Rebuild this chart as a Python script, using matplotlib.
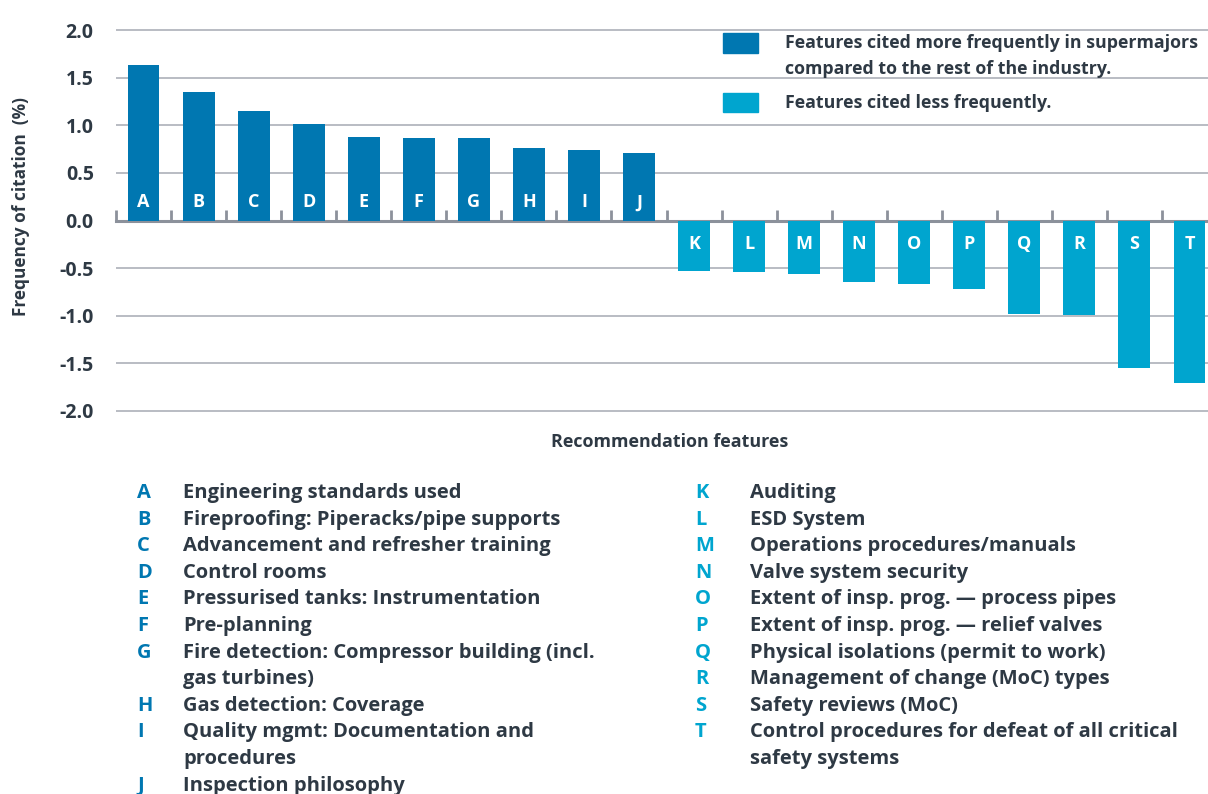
import numpy as np
import matplotlib
matplotlib.use("Agg")
import matplotlib.pyplot as plt
from matplotlib.patches import Rectangle

# ---- data ----
letters = list("ABCDEFGHIJKLMNOPQRST")
values = [1.63, 1.35, 1.15, 1.01, 0.88, 0.87, 0.87, 0.76, 0.74, 0.71,
          -0.53, -0.54, -0.56, -0.65, -0.67, -0.72, -0.98, -0.99, -1.55, -1.71]
descriptions = [
    "Engineering standards used",
    "Fireproofing: Piperacks/pipe supports",
    "Advancement and refresher training",
    "Control rooms",
    "Pressurised tanks: Instrumentation",
    "Pre-planning",
    "Fire detection: Compressor building (incl.\ngas turbines)",
    "Gas detection: Coverage",
    "Quality mgmt: Documentation and\nprocedures",
    "Inspection philosophy",
    "Auditing",
    "ESD System",
    "Operations procedures/manuals",
    "Valve system security",
    "Extent of insp. prog. \u2014 process pipes",
    "Extent of insp. prog. \u2014 relief valves",
    "Physical isolations (permit to work)",
    "Management of change (MoC) types",
    "Safety reviews (MoC)",
    "Control procedures for defeat of all critical\nsafety systems",
]
yticks = [2.0, 1.5, 1.0, 0.5, 0.0, -0.5, -1.0, -1.5, -2.0]
legend_labels = ["Features cited more frequently in supermajors\ncompared to the rest of the industry.",
                 "Features cited less frequently."]
y_label = "Frequency of citation  (%)"
x_label = "Recommendation features"

dark_blue = "#0077b1"
light_blue = "#00a5cf"
text_col = "#2e3944"
grid_col = "#b9bcc3"
axis_col = "#8c919b"

plt.rcParams['font.family'] = ['Open Sans', 'DejaVu Sans']
W8 = 'bold'

W, H = 1208, 794
fig = plt.figure(figsize=(W / 100, H / 100), dpi=100)

def fx(px):
    return px / W

def fy(py):
    return 1 - py / H

# axes geometry (pixels)
ax_left, ax_right = 116, 1208
y_top_px, y_bot_px = 30, 411  # 2.0 and -2.0
ppu = (y_bot_px - y_top_px) / 4.0
ylim = (-2.03, 2.03)
ax_top_px = 220.5 - ylim[1] * ppu
ax_bot_px = 220.5 - ylim[0] * ppu
ax = fig.add_axes([fx(ax_left), fy(ax_bot_px), fx(ax_right - ax_left),
                   (ax_bot_px - ax_top_px) / H])

n = len(letters)
x = np.arange(n)
colors = [dark_blue if v > 0 else light_blue for v in values]
ax.bar(x, values, width=0.58, color=colors, zorder=3)

step = 55.05
ax.set_xlim(-0.5, -0.5 + (ax_right - ax_left) / step)
ax.set_ylim(*ylim)

for xi, v, lab in zip(x, values, letters):
    ty = 0.19 if v > 0 else -0.25
    ax.text(xi, ty, lab, ha='center', va='center', color='white',
            fontsize=13, fontweight=W8, zorder=4)

# grid
ax.set_yticks(yticks)
ax.set_yticklabels([f"{t:.1f}" for t in yticks])
ax.yaxis.grid(True, color=grid_col, lw=1.4)
ax.set_axisbelow(True)
ax.tick_params(axis='y', length=0, pad=16, labelsize=14, labelcolor=text_col)
for lbl in ax.get_yticklabels():
    lbl.set_fontweight(W8)

for s in ['top', 'right', 'left']:
    ax.spines[s].set_visible(False)
ax.spines['bottom'].set_position(('data', 0))
ax.spines['bottom'].set_color(axis_col)
ax.spines['bottom'].set_linewidth(2.2)
ax.set_xticks(np.arange(n) - 0.5)
ax.set_xticklabels([])
ax.tick_params(axis='x', direction='in', length=8, width=2, color=axis_col)

# axis labels
fig.text(fx(21), fy(207), y_label, rotation=90, ha='center', va='center',
         fontsize=12.4, fontweight=W8, color=text_col)
fig.text(fx(670), fy(442), x_label, ha='center', va='center',
         fontsize=12.9, fontweight=W8, color=text_col)

# legend
leg_y = [(33, 53), (93, 112)]
leg_cols = [dark_blue, light_blue]
for (y0, y1), c, lab in zip(leg_y, leg_cols, legend_labels):
    fig.add_artist(Rectangle((fx(723), fy(y1)), fx(758 - 723), (y1 - y0) / H,
                             transform=fig.transFigure, color=c))
    for k, line in enumerate(lab.split("\n")):
        fig.text(fx(785), fy((y0 + y1) / 2 + k * 26), line, ha='left', va='center',
                 fontsize=12.8, fontweight=W8, color=text_col)

# bottom key
row0, dy = 493, 26.6
cols = [(137, 183, letters[:10], descriptions[:10], dark_blue),
        (695, 750, letters[10:], descriptions[10:], light_blue)]
for lx, tx, lets, descs, c in cols:
    r = 0
    for l, d in zip(lets, descs):
        yy = row0 + r * dy
        fig.text(fx(lx), fy(yy), l, ha='left', va='center', fontsize=14.5,
                 fontweight=W8, color=c)
        for line in d.split("\n"):
            fig.text(fx(tx), fy(row0 + r * dy), line, ha='left', va='center',
                     fontsize=14.5, fontweight=W8, color=text_col)
            r += 1

fig.savefig("out.png", dpi=100)
